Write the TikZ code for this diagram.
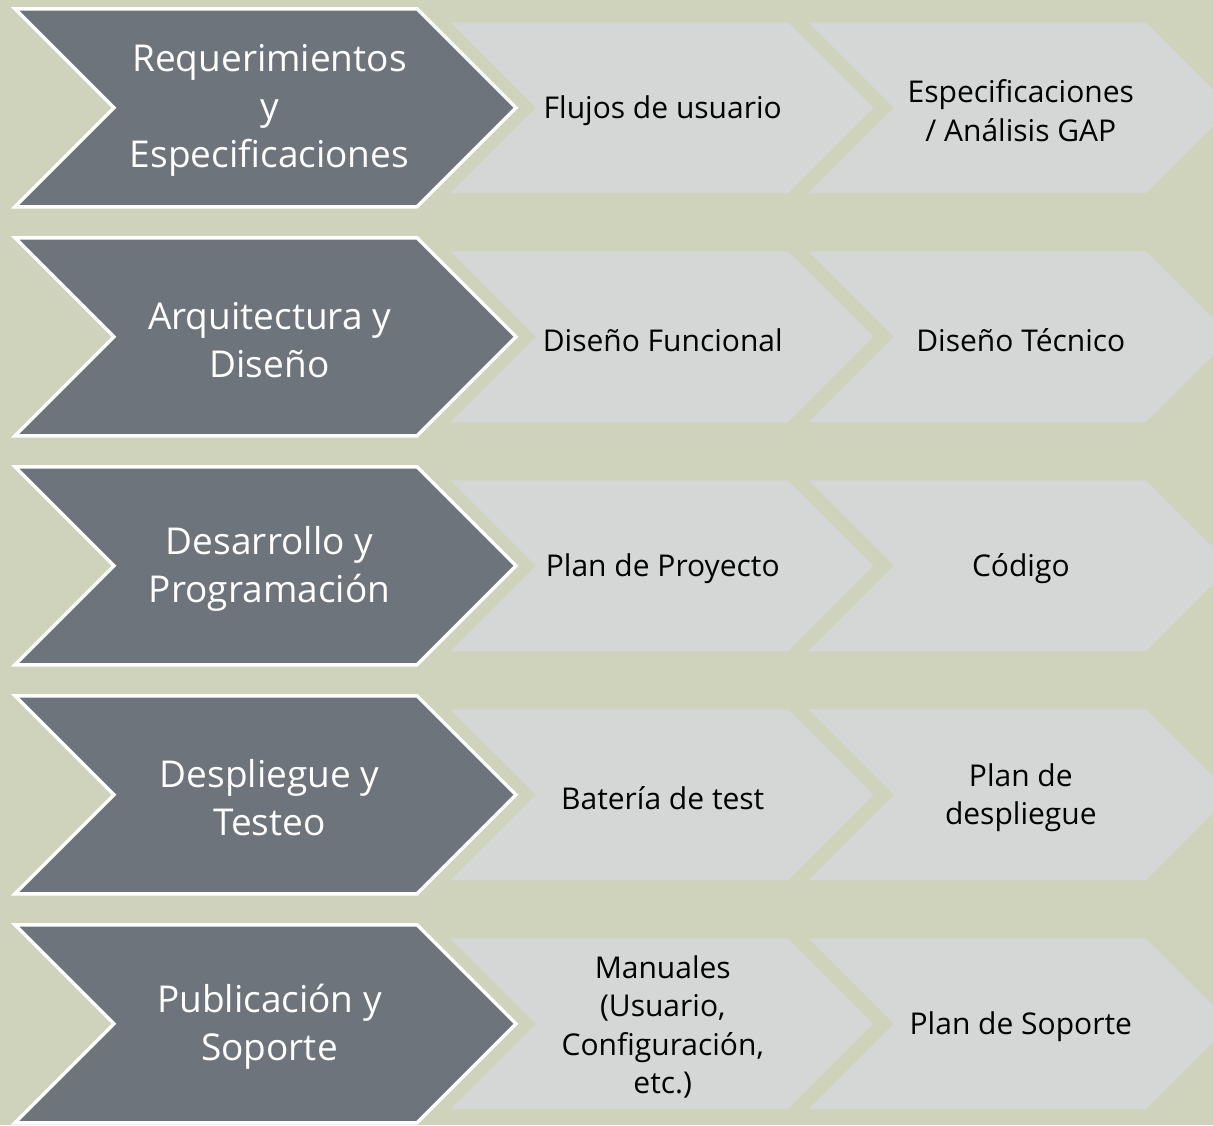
\documentclass[tikz,border=0pt]{standalone}
\usepackage{fontspec}
\setmainfont{Open Sans}
\usepackage{tikz}
\usetikzlibrary{shapes.symbols,positioning,backgrounds}
\definecolor{bgcol}{RGB}{207,211,188}
\definecolor{phasecol}{RGB}{110,116,123}
\definecolor{itemcol}{RGB}{213,215,214}
\tikzset{
  phase/.style   ={signal, signal from=west, signal to=east, signal pointer angle=90,
                   fill=phasecol, draw=white, line width=3.5pt, inner sep=0pt,
                   minimum width=501pt, minimum height=198pt},
  phasetxt/.style={text=white, align=center, xshift=4pt, yshift=-3pt,
                   font=\fontsize{37}{48}\selectfont},
  item/.style    ={signal, signal from=west, signal to=east, signal pointer angle=90,
                   fill=itemcol, inner sep=0pt,
                   minimum width=423pt, minimum height=171pt},
  itemtxt/.style ={text=black, align=center, xshift=1pt, yshift=-3pt,
                   font=\fontsize{30}{38.5}\selectfont},
}

\begin{document}
\begin{tikzpicture}[x=1pt, y=1pt, node distance=27.5pt and 17pt]
  \useasboundingbox (0,0) rectangle (1213,-1125);
  \clip (0,0) rectangle (1213,-1125);

  % ---- phases (dark chevrons) ----
  \node[phase, label={[phasetxt]center:{Requerimientos\\y\\Especificaciones}}] (req) at (265.5,-107.75) {};
  \node[phase, below=of req, label={[phasetxt]center:{Arquitectura y\\Diseño}}] (arq) {};
  \node[phase, below=of arq, label={[phasetxt]center:{Desarrollo y\\Programación}}] (des) {};
  \node[phase, below=of des, label={[phasetxt]center:{Despliegue y\\Testeo}}] (dep) {};
  \node[phase, below=of dep, label={[phasetxt]center:{Publicación y\\Soporte}}] (pub) {};

  % ---- deliverables, behind the phases ----
  \begin{scope}[on background layer]
    \fill[bgcol] (0,0) rectangle (1213,-1125);
    \node[item, right=of req, label={[itemtxt]center:{Flujos de usuario}}] (req1) {};
    \node[item, right=20pt of req1, label={[itemtxt]center:{Especificaciones\\/ Análisis GAP}}] (req2) {};
    \node[item, right=of arq, label={[itemtxt]center:{Diseño Funcional}}] (arq1) {};
    \node[item, right=20pt of arq1, label={[itemtxt]center:{Diseño Técnico}}] (arq2) {};
    \node[item, right=of des, label={[itemtxt]center:{Plan de Proyecto}}] (des1) {};
    \node[item, right=20pt of des1, label={[itemtxt]center:{Código}}] (des2) {};
    \node[item, right=of dep, label={[itemtxt]center:{Batería de test}}] (dep1) {};
    \node[item, right=20pt of dep1, label={[itemtxt]center:{Plan de\\despliegue}}] (dep2) {};
    \node[item, right=of pub, label={[itemtxt]center:{Manuales\\(Usuario,\\Configuración,\\etc.)}}] (pub1) {};
    \node[item, right=20pt of pub1, label={[itemtxt]center:{Plan de Soporte}}] (pub2) {};
  \end{scope}
\end{tikzpicture}
\end{document}
